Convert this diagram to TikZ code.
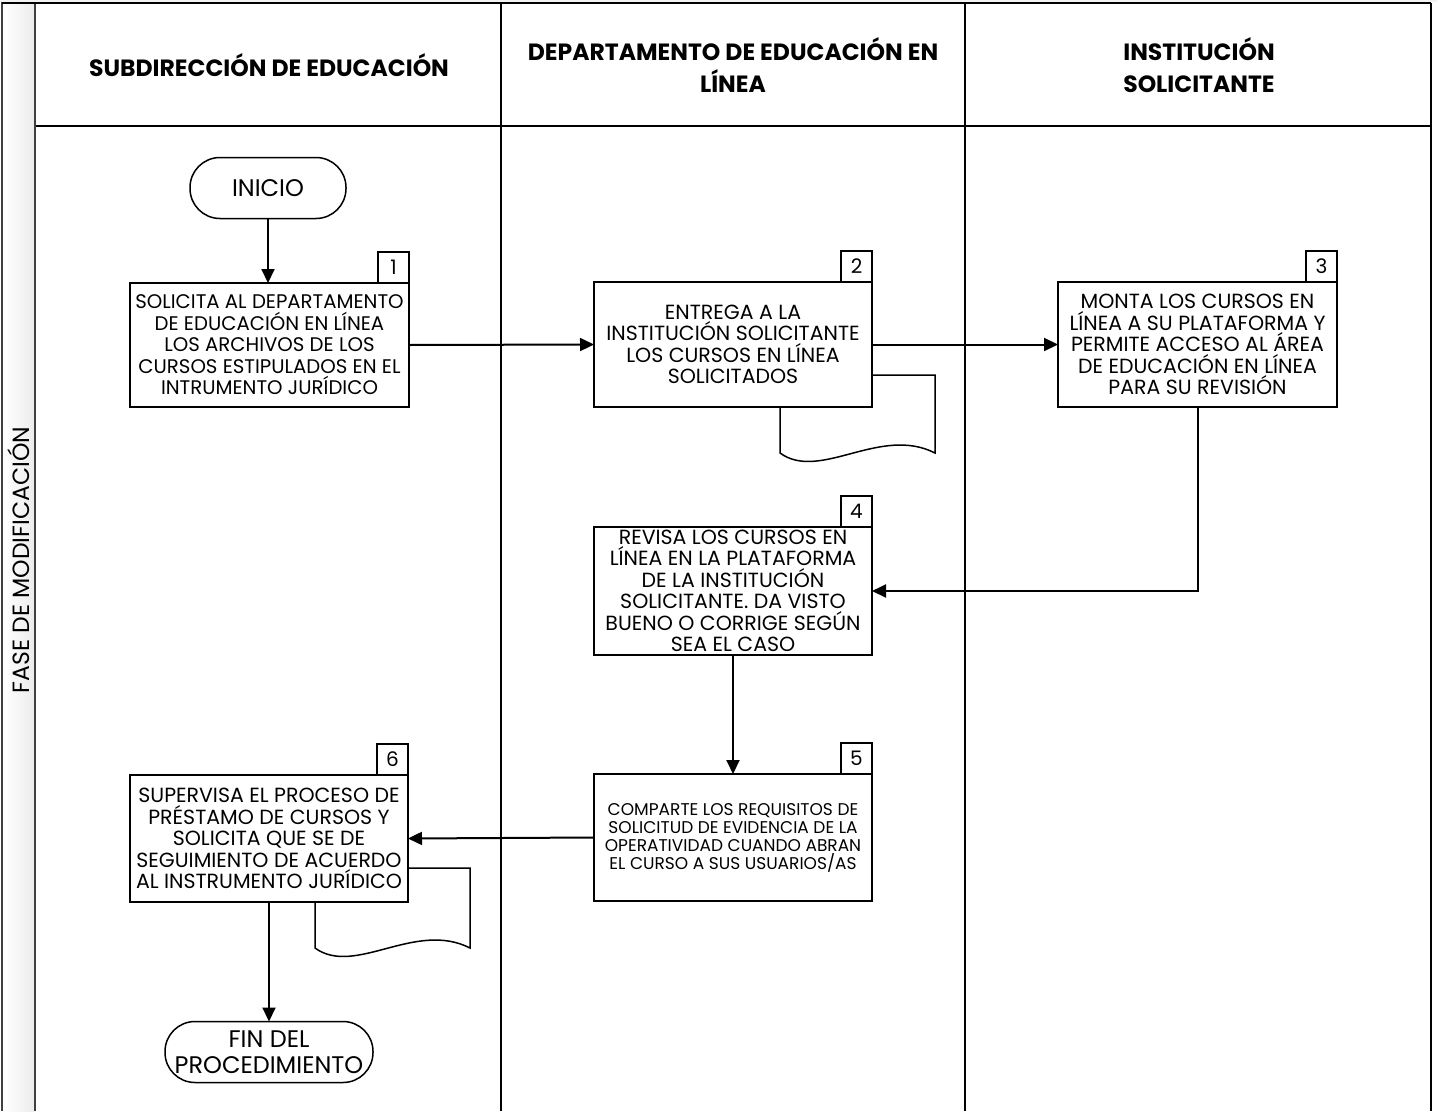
\documentclass[tikz,border=0pt]{standalone}
\usepackage{fontspec}
\setmainfont{Poppins}
\usetikzlibrary{arrows.meta}
\begin{document}
\begin{tikzpicture}[x=1pt,y=-1pt,
  every node/.style={inner sep=0pt,outer sep=0pt},
  lane/.style={draw=black,line width=1.5pt},
  proc/.style={draw=black,fill=white,line width=1.5pt,align=center,font=\fontsize{20.5}{21.5}\selectfont},
  numbox/.style={draw=black,fill=white,line width=1.5pt,font=\fontsize{20}{20}\selectfont},
  term/.style={draw=black,fill=white,line width=1.5pt,rounded corners=30pt,align=center,font=\fontsize{24}{26}\selectfont},
  doc/.style={draw=black,fill=white,line width=1.5pt},
  hdr/.style={align=center,font=\fontsize{23.5}{32}\selectfont\bfseries},
  flow/.style={draw=black,line width=2pt,-{Triangle[length=14pt,width=13pt]}}
]
\useasboundingbox (0,0) rectangle (1437,1111);
% pool
\shade[left color=white,right color=gray!15] (3,0) rectangle (35,1111);
\draw[draw=black!75,line width=2pt] (2,0) -- (2,1111);
\draw[draw=black!75,line width=2pt] (35,3) -- (35,1111);
\fill[gray!10] (0,0) rectangle (1437,2);
\draw[lane] (2,3) -- (1431,3);
\draw[lane] (1431,3) -- (1431,1111);
\draw[lane] (36,126) -- (1431,126);
\draw[lane] (501,3) -- (501,1111);
\draw[lane] (965,3) -- (965,1111);
\node[rotate=90,font=\fontsize{23.5}{24}\selectfont] (fase) at (19,560) {FASE DE MODIFICACIÓN};
% headers
\node[hdr] (h1) at (269,65) {SUBDIRECCIÓN DE EDUCACIÓN};
\node[hdr] (h2) at (733,65) {DEPARTAMENTO DE EDUCACIÓN EN\\LÍNEA};
\node[hdr] (h3) at (1199,65) {INSTITUCIÓN\\SOLICITANTE};
% documents
\draw[doc] (780,453) -- (780,375) -- (935,375) -- (935,453) .. controls (880,425) and (820,482) .. (780,453) -- cycle;
\draw[doc] (315,948) -- (315,868) -- (470,868) -- (470,948) .. controls (415,920) and (355,977) .. (315,948) -- cycle;
% terminals
\node[term,minimum width=156pt,minimum height=61pt] (ini) at (268,188) {INICIO};
\node[term,minimum width=208pt,minimum height=61pt] (fin) at (269,1052) {FIN DEL\\PROCEDIMIENTO};
% process boxes
\node[proc,minimum width=279pt,minimum height=124pt,font=\fontsize{19.7}{21.5}\selectfont] (b1) at (269.5,345) {SOLICITA AL DEPARTAMENTO\\DE EDUCACIÓN EN LÍNEA\\LOS ARCHIVOS DE LOS\\CURSOS ESTIPULADOS EN EL\\INTRUMENTO JURÍDICO};
\node[numbox,minimum width=31pt,minimum height=31pt,anchor=south east] (n1) at (b1.north east) {1};
\node[proc,minimum width=278pt,minimum height=125pt] (b2) at (733,344.5) {ENTREGA A LA\\INSTITUCIÓN SOLICITANTE\\LOS CURSOS EN LÍNEA\\SOLICITADOS};
\node[numbox,minimum width=31pt,minimum height=31pt,anchor=south east] (n2) at (b2.north east) {2};
\node[proc,minimum width=279pt,minimum height=125pt] (b3) at (1197.5,344.5) {MONTA LOS CURSOS EN\\LÍNEA A SU PLATAFORMA Y\\PERMITE ACCESO AL ÁREA\\DE EDUCACIÓN EN LÍNEA\\PARA SU REVISIÓN};
\node[numbox,minimum width=31pt,minimum height=31pt,anchor=south east] (n3) at (b3.north east) {3};
\node[proc,minimum width=278pt,minimum height=128pt] (b4) at (733,591) {REVISA LOS CURSOS EN\\LÍNEA EN LA PLATAFORMA\\DE LA INSTITUCIÓN\\SOLICITANTE. DA VISTO\\BUENO O CORRIGE SEGÚN\\SEA EL CASO};
\node[numbox,minimum width=31pt,minimum height=31pt,anchor=south east] (n4) at (b4.north east) {4};
\node[proc,minimum width=278pt,minimum height=127pt,font=\fontsize{17}{18}\selectfont] (b5) at (733,837.5) {COMPARTE LOS REQUISITOS DE\\SOLICITUD DE EVIDENCIA DE LA\\OPERATIVIDAD CUANDO ABRAN\\EL CURSO A SUS USUARIOS/AS};
\node[numbox,minimum width=31pt,minimum height=31pt,anchor=south east] (n5) at (b5.north east) {5};
\node[proc,minimum width=278pt,minimum height=127pt] (b6) at (269,838.5) {SUPERVISA EL PROCESO DE\\PRÉSTAMO DE CURSOS Y\\SOLICITA QUE SE DE\\SEGUIMIENTO DE ACUERDO\\AL INSTRUMENTO JURÍDICO};
\node[numbox,minimum width=31pt,minimum height=31pt,anchor=south east] (n6) at (b6.north east) {6};
% connectors
\draw[flow] (ini.south) -- (ini.south |- b1.north);
\draw[flow] (b1.east) -- (b2.west);
\draw[flow] (b2.east) -- (b3.west);
\draw[flow] (b3.south) |- (b4.east);
\draw[flow] (b4.south) -- (b5.north);
\draw[flow] (b5.west) -- (b6.east);
\draw[flow] (b6.south) -- (fin.north);
\end{tikzpicture}
\end{document}
